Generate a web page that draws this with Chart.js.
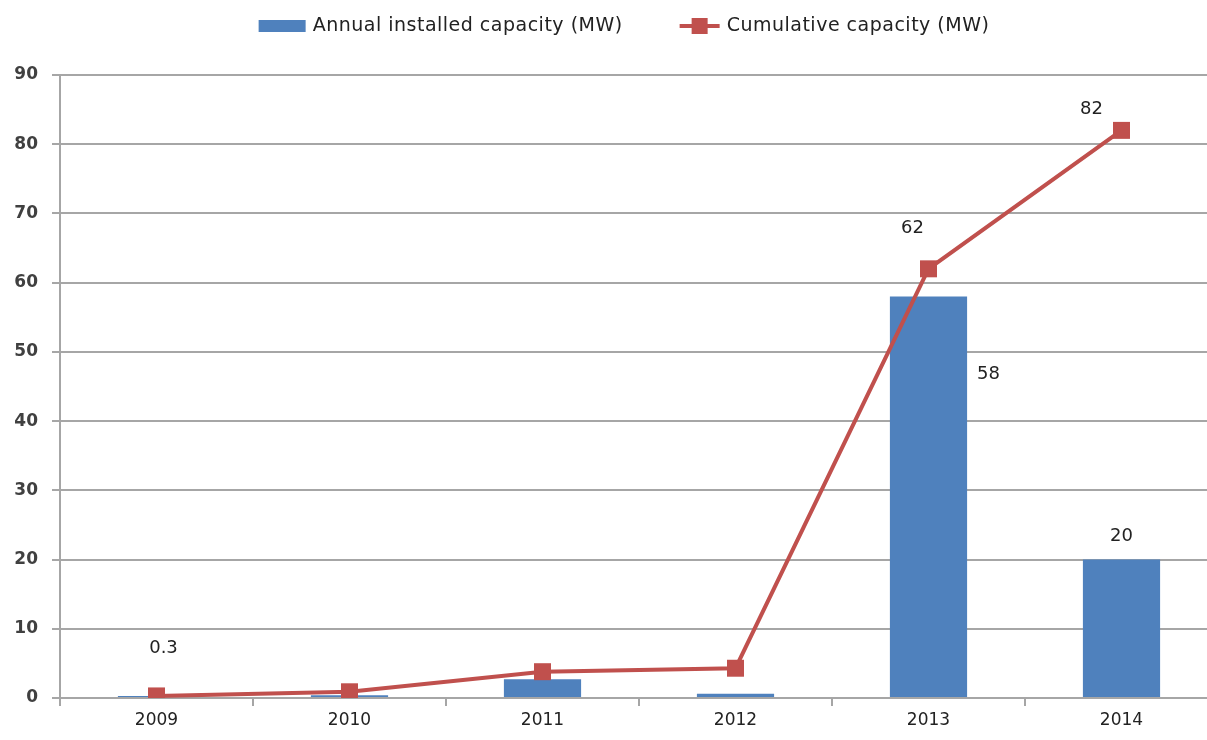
<!DOCTYPE html>
<html>
<head>
<meta charset="utf-8">
<script src="https://cdn.jsdelivr.net/npm/chart.js@4/dist/chart.umd.min.js"></script>
<style>
	html, body { margin: 0; padding: 0; background: #fff; overflow: hidden; }
</style>
</head>
<body>
<canvas id="chart" width="1207" height="740"></canvas>
<script>
// chart data
const years = ["2009", "2010", "2011", "2012", "2013", "2014"]
const annualMW = [0.3, 0.4, 2.7, 0.6, 58, 20]
const cumulativeMW = [0.3, 0.9, 3.8, 4.3, 62, 82]
const yTicks = [0, 10, 20, 30, 40, 50, 60, 70, 80, 90]
const seriesNames = ["Annual installed capacity (MW)", "Cumulative capacity (MW)"]

const BLUE = "#4F81BD"
const RED = "#C0504D"
const GRID = "#a6a6a6"

// the original plot runs a little past the right edge of the picture
const PLOT_RIGHT = 1218

// which points get a value label, and where it sits relative to the mark
const valueLabels = [
	{ ds: 1, i: 0, dx: 7, dy: -48 },
	{ ds: 1, i: 4, dx: -16, dy: -40 },
	{ ds: 1, i: 5, dx: -30, dy: -21 },
	{ ds: 0, i: 4, dx: 60, dy: 78 },
	{ ds: 0, i: 5, dx: 0, dy: -23 }
]

const stretchPlugin = {
	id: "stretchX",
	afterLayout(chart) {
		const x = chart.scales.x
		chart.chartArea.right = PLOT_RIGHT
		chart.chartArea.width = PLOT_RIGHT - chart.chartArea.left
		x.right = PLOT_RIGHT
		x.width = PLOT_RIGHT - x.left
		x.configure()
	}
}

const labelsPlugin = {
	id: "valueLabels",
	afterDatasetsDraw(chart) {
		const ctx = chart.ctx
		ctx.save()
		ctx.font = "18px 'DejaVu Sans'"
		ctx.fillStyle = "#222"
		ctx.textAlign = "center"
		ctx.textBaseline = "middle"
		valueLabels.forEach(l => {
			const el = chart.getDatasetMeta(l.ds).data[l.i]
			const v = chart.data.datasets[l.ds].data[l.i]
			ctx.fillText(String(v), el.x + l.dx, el.y + l.dy)
		})
		ctx.restore()
	}
}

// legend drawn by hand so the line entry shows a line with a square marker
const legendPlugin = {
	id: "manualLegend",
	afterDraw(chart) {
		const ctx = chart.ctx
		ctx.save()
		ctx.font = "19px 'DejaVu Sans'"
		ctx.letterSpacing = "0.5px"
		ctx.textBaseline = "middle"
		const t0 = chart.data.datasets[0].label
		const t1 = chart.data.datasets[1].label
		const w0 = ctx.measureText(t0).width
		const w1 = ctx.measureText(t1).width
		const total = 47 + 7 + w0 + 57 + 40 + 7 + w1
		let x = 624 - total / 2
		const y = 26
		ctx.fillStyle = BLUE
		ctx.fillRect(x, y - 6, 47, 12)
		x += 54
		ctx.fillStyle = "#222"
		ctx.fillText(t0, x, y)
		x += w0 + 57
		ctx.strokeStyle = RED
		ctx.lineWidth = 4
		ctx.beginPath()
		ctx.moveTo(x, y)
		ctx.lineTo(x + 40, y)
		ctx.stroke()
		ctx.fillStyle = RED
		ctx.fillRect(x + 12, y - 8, 16, 16)
		x += 47
		ctx.fillStyle = "#222"
		ctx.fillText(t1, x, y)
		ctx.restore()
	}
}

const initChart = () => {
	new Chart(document.getElementById("chart"), {
		data: {
			labels: years,
			datasets: [
				{
					type: "bar",
					label: seriesNames[0],
					data: annualMW,
					backgroundColor: BLUE,
					barPercentage: 0.4,
					categoryPercentage: 1,
					order: 1
				},
				{
					type: "line",
					label: seriesNames[1],
					data: cumulativeMW,
					borderColor: RED,
					borderWidth: 4,
					pointStyle: "rect",
					pointRadius: 12,
					pointBackgroundColor: RED,
					pointBorderWidth: 0,
					tension: 0,
					order: 0
				}
			]
		},
		options: {
			responsive: false,
			animation: false,
			devicePixelRatio: 1,
			layout: { padding: { top: 75, left: 0, right: 0, bottom: 0 } },
			plugins: {
				legend: { display: false },
				tooltip: { enabled: false }
			},
			scales: {
				x: {
					offset: true,
					afterFit: s => { s.height = 42 },
					grid: {
						offset: true,
						drawOnChartArea: false,
						drawTicks: true,
						tickLength: 8,
						color: GRID,
						lineWidth: 2
					},
					border: { color: GRID, width: 2 },
					ticks: {
						color: "#222",
						font: { family: "DejaVu Sans", size: 17 },
						padding: 4,
						maxRotation: 0
					}
				},
				y: {
					min: 0,
					max: 90,
					afterFit: s => { s.width = 60 },
					afterBuildTicks: s => { s.ticks = yTicks.map(v => ({ value: v })) },
					grid: {
						color: GRID,
						lineWidth: 2,
						tickLength: 8
					},
					border: { color: GRID, width: 2 },
					ticks: {
						color: "#404040",
						font: { family: "DejaVu Sans", size: 17, weight: "bold" },
						padding: 14
					}
				}
			}
		},
		plugins: [stretchPlugin, labelsPlugin, legendPlugin]
	})
}

initChart()
</script>
</body>
</html>
